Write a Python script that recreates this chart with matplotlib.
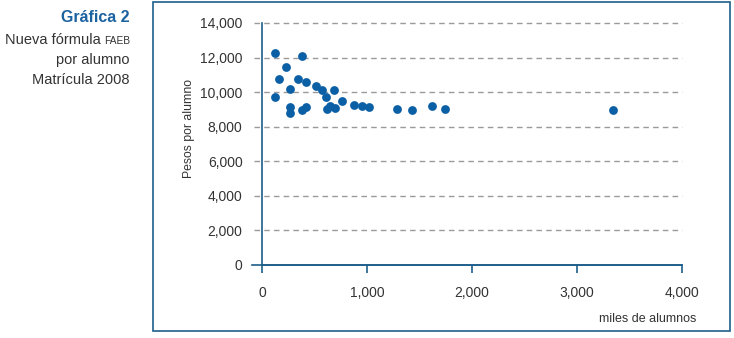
import matplotlib.pyplot as plt
from matplotlib.patches import Rectangle
from matplotlib.ticker import FuncFormatter

# miles de alumnos vs pesos por alumno
alumnos = [124, 159, 121, 229, 267, 267, 264, 381, 346, 419, 378, 419, 517, 574,
           610, 686, 616, 648, 695, 765, 879, 955, 1021, 1283, 1431, 1616, 1743, 3343]
pesos = [12280, 10780, 9720, 11440, 10160, 9160, 8780, 12070, 10780, 10570, 8970,
         9120, 10360, 10120, 9720, 10120, 9040, 9220, 9070, 9500, 9270, 9200, 9120,
         9040, 8980, 9200, 9040, 8980]

x_ticks = [0, 1000, 2000, 3000, 4000]
y_ticks = [0, 2000, 4000, 6000, 8000, 10000, 12000, 14000]

title = "Gráfica 2"
subtitle = ["por alumno", "Matrícula 2008"]

axis_col = "#1f5f8b"
dot_col = "#0b5fa5"
text_col = "#333333"

plt.rcParams['font.family'] = ['Liberation Sans', 'DejaVu Sans']

fig = plt.figure(figsize=(7.34, 3.38), dpi=100)
ax = fig.add_axes([262 / 734, 73 / 338, 420 / 734, 242 / 338])

# outer frame
fig.patches.append(Rectangle((152.5 / 734, 7.5 / 338), 577 / 734, 329 / 338,
                             transform=fig.transFigure, fill=False,
                             edgecolor=axis_col, linewidth=1.2))

for y in y_ticks[1:]:
    ax.axhline(y, xmin=-0.02, xmax=1, color="#9a9a9a", linestyle=(0, (4, 3)),
               linewidth=1, clip_on=False, zorder=1)
ax.axhline(0, xmin=-0.024, xmax=1, color=axis_col, linewidth=1.2, clip_on=False, zorder=2)

ax.scatter(alumnos, pesos, s=40, color=dot_col, zorder=3, linewidths=0)

ax.set_xlim(0, 4000)
ax.set_ylim(0, 14000)
ax.set_xticks(x_ticks)
ax.set_yticks(y_ticks)
fmt = FuncFormatter(lambda v, p: f"{int(v):,}")
ax.xaxis.set_major_formatter(fmt)
ax.yaxis.set_major_formatter(fmt)

for s in ["top", "right"]:
    ax.spines[s].set_visible(False)
ax.spines["left"].set_color(axis_col)
ax.spines["bottom"].set_color(axis_col)
ax.spines["left"].set_linewidth(1.2)
ax.spines["bottom"].set_linewidth(1.2)

ax.tick_params(axis="x", length=6, width=1.2, color=axis_col, pad=9,
               labelsize=10, labelcolor=text_col)
ax.tick_params(axis="y", length=0, pad=14, labelsize=10, labelcolor=text_col)

ax.set_ylabel("Pesos por alumno", fontsize=8.8, color=text_col)
ax.yaxis.set_label_coords((195 - 262) / 420, (265 - 129) / 242)
fig.text(696 / 734, 1 - 319 / 338, "miles de alumnos", ha="right", va="center",
         fontsize=9, color=text_col)

# left-hand caption
fig.text(130 / 734, 1 - 17 / 338, title, ha="right", va="center", fontsize=11.5,
         fontweight="bold", color="#1a62a0")
faeb = fig.text(130 / 734, 1 - 40.5 / 338, "FAEB", ha="right", va="center",
                fontsize=7.3, color=text_col)
fig.canvas.draw()
bb = faeb.get_window_extent()
fig.text((bb.x0 - 3) / 734, 1 - 40 / 338, "Nueva fórmula", ha="right", va="center",
         fontsize=10.5, color=text_col)
for i, line in enumerate(subtitle):
    fig.text(130 / 734, 1 - (60 + 20 * i) / 338, line, ha="right", va="center",
             fontsize=10.5, color=text_col)

fig.savefig("out.png", dpi=100)
